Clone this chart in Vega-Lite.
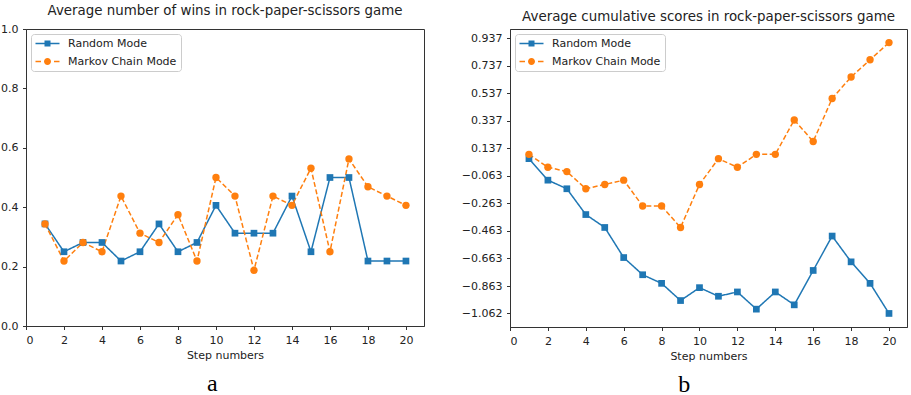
{
  "$schema": "https://vega.github.io/schema/vega-lite/v6.json",
  "padding": {"left": 0, "top": 3, "right": 3, "bottom": 0},
  "datasets": {
    "rps": [
      {"step": 1, "mode": "Random Mode", "wins": 0.34375, "score": 0.0625},
      {"step": 2, "mode": "Random Mode", "wins": 0.25, "score": -0.09375},
      {"step": 3, "mode": "Random Mode", "wins": 0.28125, "score": -0.15625},
      {"step": 4, "mode": "Random Mode", "wins": 0.28125, "score": -0.34375},
      {"step": 5, "mode": "Random Mode", "wins": 0.21875, "score": -0.4375},
      {"step": 6, "mode": "Random Mode", "wins": 0.25, "score": -0.65625},
      {"step": 7, "mode": "Random Mode", "wins": 0.34375, "score": -0.78125},
      {"step": 8, "mode": "Random Mode", "wins": 0.25, "score": -0.84375},
      {"step": 9, "mode": "Random Mode", "wins": 0.28125, "score": -0.96875},
      {"step": 10, "mode": "Random Mode", "wins": 0.40625, "score": -0.875},
      {"step": 11, "mode": "Random Mode", "wins": 0.3125, "score": -0.9375},
      {"step": 12, "mode": "Random Mode", "wins": 0.3125, "score": -0.90625},
      {"step": 13, "mode": "Random Mode", "wins": 0.3125, "score": -1.03125},
      {"step": 14, "mode": "Random Mode", "wins": 0.4375, "score": -0.90625},
      {"step": 15, "mode": "Random Mode", "wins": 0.25, "score": -1.0},
      {"step": 16, "mode": "Random Mode", "wins": 0.5, "score": -0.75},
      {"step": 17, "mode": "Random Mode", "wins": 0.5, "score": -0.5},
      {"step": 18, "mode": "Random Mode", "wins": 0.21875, "score": -0.6875},
      {"step": 19, "mode": "Random Mode", "wins": 0.21875, "score": -0.84375},
      {"step": 20, "mode": "Random Mode", "wins": 0.21875, "score": -1.0625},
      {"step": 1, "mode": "Markov Chain Mode", "wins": 0.34375, "score": 0.09375},
      {"step": 2, "mode": "Markov Chain Mode", "wins": 0.21875, "score": 0.0},
      {"step": 3, "mode": "Markov Chain Mode", "wins": 0.28125, "score": -0.03125},
      {"step": 4, "mode": "Markov Chain Mode", "wins": 0.25, "score": -0.15625},
      {"step": 5, "mode": "Markov Chain Mode", "wins": 0.4375, "score": -0.125},
      {"step": 6, "mode": "Markov Chain Mode", "wins": 0.3125, "score": -0.09375},
      {"step": 7, "mode": "Markov Chain Mode", "wins": 0.28125, "score": -0.28125},
      {"step": 8, "mode": "Markov Chain Mode", "wins": 0.375, "score": -0.28125},
      {"step": 9, "mode": "Markov Chain Mode", "wins": 0.21875, "score": -0.4375},
      {"step": 10, "mode": "Markov Chain Mode", "wins": 0.5, "score": -0.125},
      {"step": 11, "mode": "Markov Chain Mode", "wins": 0.4375, "score": 0.0625},
      {"step": 12, "mode": "Markov Chain Mode", "wins": 0.1875, "score": 0.0},
      {"step": 13, "mode": "Markov Chain Mode", "wins": 0.4375, "score": 0.09375},
      {"step": 14, "mode": "Markov Chain Mode", "wins": 0.40625, "score": 0.09375},
      {"step": 15, "mode": "Markov Chain Mode", "wins": 0.53125, "score": 0.34375},
      {"step": 16, "mode": "Markov Chain Mode", "wins": 0.25, "score": 0.1875},
      {"step": 17, "mode": "Markov Chain Mode", "wins": 0.5625, "score": 0.5},
      {"step": 18, "mode": "Markov Chain Mode", "wins": 0.46875, "score": 0.65625},
      {"step": 19, "mode": "Markov Chain Mode", "wins": 0.4375, "score": 0.78125},
      {"step": 20, "mode": "Markov Chain Mode", "wins": 0.40625, "score": 0.90625}
    ]
  },
  "data": {"name": "rps"},
  "spacing": 35,
  "hconcat": [
    {
      "title": {"text": "a", "orient": "bottom", "font": "Liberation Serif", "fontSize": 24, "fontWeight": "normal", "color": "#000", "offset": 11, "anchor": "middle"},
      "vconcat": [
        {
          "width": 398,
          "height": 297,
          "title": {"text": "Average number of wins in rock-paper-scissors game"},
          "encoding": {
            "x": {"field": "step", "type": "quantitative", "scale": {"domain": [0, 20.95], "nice": false, "zero": false}, "axis": {"values": [0, 2, 4, 6, 8, 10, 12, 14, 16, 18, 20], "title": "Step numbers"}},
            "y": {"field": "wins", "type": "quantitative", "scale": {"domain": [0, 1], "nice": false}, "axis": {"values": [0, 0.2, 0.4, 0.6, 0.8, 1.0], "format": ".1f", "title": null}}
          },
          "layer": [
            {
              "mark": {"type": "line", "strokeWidth": 1.5},
              "encoding": {
                "strokeDash": {"field": "mode", "type": "nominal", "scale": {"domain": ["Random Mode", "Markov Chain Mode"], "range": [[1, 0], [5, 2.5]]}, "legend": null},
                "color": {"field": "mode", "type": "nominal", "scale": {"domain": ["Random Mode", "Markov Chain Mode"], "range": ["#1f77b4", "#ff7f0e"]},
                  "legend": {"title": null, "orient": "top-left", "offset": 5, "padding": 4, "strokeColor": "#cccccc", "fillColor": "rgba(255,255,255,0.8)", "cornerRadius": 3, "labelFontSize": 11, "labelColor": "#222", "symbolSize": 100, "labelOffset": 22, "rowPadding": 6,
                    "encode": {"symbols": {"update": {
                      "shape": {"signal": "datum.value === 'Random Mode' ? 'M-1,-0.15H3.8V0.15H-1Z M0.8,-0.6H2V0.6H0.8Z' : 'M-1,-0.15H0.1V0.15H-1Z M2.7,-0.15H3.8V0.15H2.7Z M2.1,0A0.7,0.7 0 1,1 0.7,0A0.7,0.7 0 1,1 2.1,0Z'"},
                      "fill": {"signal": "datum.value === 'Random Mode' ? '#1f77b4' : '#ff7f0e'"},
                      "stroke": {"value": "transparent"},
                      "strokeWidth": {"value": 0},
                      "opacity": {"value": 1}
                    }}}}}
              }
            },
            {
              "mark": {"type": "point", "filled": true, "opacity": 1},
              "encoding": {
                "shape": {"field": "mode", "type": "nominal", "scale": {"domain": ["Random Mode", "Markov Chain Mode"], "range": ["square", "circle"]}, "legend": null},
                "size": {"field": "mode", "type": "nominal", "scale": {"domain": ["Random Mode", "Markov Chain Mode"], "range": [45, 54]}, "legend": null},
                "color": {"field": "mode", "type": "nominal", "scale": {"domain": ["Random Mode", "Markov Chain Mode"], "range": ["#1f77b4", "#ff7f0e"]}, "legend": null}
              }
            }
          ]
        }
      ]
    },
    {
      "title": {"text": "b", "orient": "bottom", "font": "Liberation Serif", "fontSize": 24, "fontWeight": "normal", "color": "#000", "offset": 11, "anchor": "middle"},
      "vconcat": [
        {
          "width": 397,
          "height": 298,
          "title": {"text": "Average cumulative scores in rock-paper-scissors game"},
          "encoding": {
            "x": {"field": "step", "type": "quantitative", "scale": {"domain": [0, 20.95], "nice": false, "zero": false}, "axis": {"values": [0, 2, 4, 6, 8, 10, 12, 14, 16, 18, 20], "title": "Step numbers"}},
            "y": {"field": "score", "type": "quantitative", "scale": {"domain": [-1.161, 1.005], "nice": false, "zero": false}, "axis": {"values": [0.937, 0.737, 0.537, 0.337, 0.137, -0.063, -0.263, -0.463, -0.663, -0.863, -1.062], "format": ".3f", "title": null}}
          },
          "layer": [
            {
              "mark": {"type": "line", "strokeWidth": 1.5},
              "encoding": {
                "strokeDash": {"field": "mode", "type": "nominal", "scale": {"domain": ["Random Mode", "Markov Chain Mode"], "range": [[1, 0], [5, 2.5]]}, "legend": null},
                "color": {"field": "mode", "type": "nominal", "scale": {"domain": ["Random Mode", "Markov Chain Mode"], "range": ["#1f77b4", "#ff7f0e"]},
                  "legend": {"title": null, "orient": "top-left", "offset": 5, "padding": 4, "strokeColor": "#cccccc", "fillColor": "rgba(255,255,255,0.8)", "cornerRadius": 3, "labelFontSize": 11, "labelColor": "#222", "symbolSize": 100, "labelOffset": 22, "rowPadding": 6,
                    "encode": {"symbols": {"update": {
                      "shape": {"signal": "datum.value === 'Random Mode' ? 'M-1,-0.15H3.8V0.15H-1Z M0.8,-0.6H2V0.6H0.8Z' : 'M-1,-0.15H0.1V0.15H-1Z M2.7,-0.15H3.8V0.15H2.7Z M2.1,0A0.7,0.7 0 1,1 0.7,0A0.7,0.7 0 1,1 2.1,0Z'"},
                      "fill": {"signal": "datum.value === 'Random Mode' ? '#1f77b4' : '#ff7f0e'"},
                      "stroke": {"value": "transparent"},
                      "strokeWidth": {"value": 0},
                      "opacity": {"value": 1}
                    }}}}}
              }
            },
            {
              "mark": {"type": "point", "filled": true, "opacity": 1},
              "encoding": {
                "shape": {"field": "mode", "type": "nominal", "scale": {"domain": ["Random Mode", "Markov Chain Mode"], "range": ["square", "circle"]}, "legend": null},
                "size": {"field": "mode", "type": "nominal", "scale": {"domain": ["Random Mode", "Markov Chain Mode"], "range": [45, 54]}, "legend": null},
                "color": {"field": "mode", "type": "nominal", "scale": {"domain": ["Random Mode", "Markov Chain Mode"], "range": ["#1f77b4", "#ff7f0e"]}, "legend": null}
              }
            }
          ]
        }
      ]
    }
  ],
  "resolve": {"scale": {"color": "independent"}},
  "config": {
    "font": "DejaVu Sans",
    "view": {"stroke": "#333", "strokeWidth": 1},
    "axis": {"grid": false, "domainColor": "#333", "tickColor": "#333", "tickSize": 3.5, "labelFontSize": 11, "labelColor": "#222", "titleFontSize": 11, "titleFontWeight": "normal", "titleColor": "#222", "labelPadding": 4.5, "titlePadding": 4, "labelFont": "DejaVu Sans", "titleFont": "DejaVu Sans", "domainWidth": 1, "tickWidth": 1},
    "title": {"fontSize": 13.4, "fontWeight": "normal", "font": "DejaVu Sans", "color": "#222", "offset": 6}
  }
}
